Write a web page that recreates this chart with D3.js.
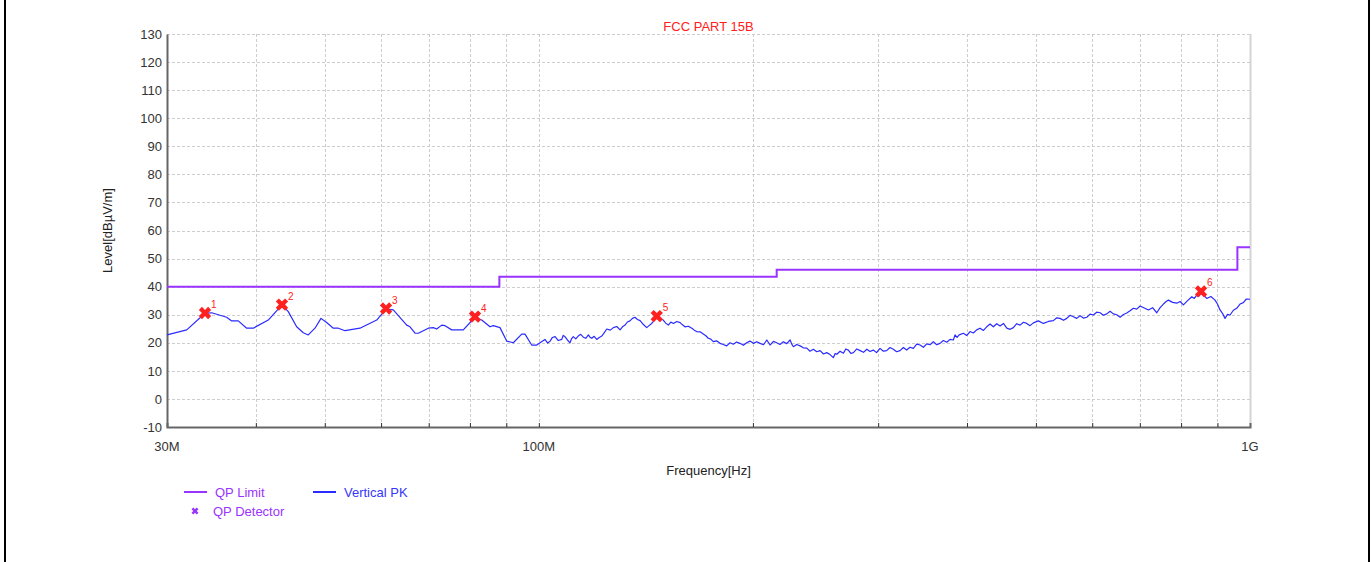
<!DOCTYPE html>
<html>
<head>
<meta charset="utf-8">
<script src="https://cdn.jsdelivr.net/npm/d3@7"></script>
<style>
  html, body { margin: 0; padding: 0; background: #fff; }
  svg text { font-family: "Liberation Sans", Arial, sans-serif; }
</style>
</head>
<body>
<div id="chart"></div>
<script>
// ---- data (MHz / dBµV/m) ----
const limitEdges = [30, 88, 216, 960, 1000];
const limitLevels = [40, 43.5, 46, 54];

const qpMarkers = [
  [33.93, 30.6], [43.53, 33.6], [60.97, 32.2], [81.32, 29.3], [146.5, 29.5], [853.4, 38.3]
];

const yTicks = d3.range(-10, 131, 10);
const xGrid = [40, 50, 60, 70, 80, 90, 100, 200, 300, 400, 500, 600, 700, 800, 900];
const xLabels = [[30, '30M'], [100, '100M'], [1000, '1G']];

// Vertical PK trace
const verticalPK = [
  [30.0, 22.8], [31.98, 24.6], [33.93, 30.5], [34.67, 30.7], [36.39, 29.1], [36.99, 27.8],
  [37.79, 27.8], [38.83, 25.2], [39.67, 25.2], [41.64, 28.1], [43.53, 33.5], [44.43, 31.1],
  [45.65, 25.7], [46.64, 23.6], [47.40, 22.8], [48.44, 25.2], [49.39, 28.7], [50.31, 27.2],
  [51.40, 25.2], [52.24, 25.2], [53.38, 24.3], [56.03, 25.2], [59.16, 28.1], [60.97, 32.0],
  [62.42, 31.7], [65.19, 26.3], [65.89, 25.7], [66.97, 23.4], [67.69, 23.4], [69.92, 25.2],
  [71.06, 25.4], [71.84, 24.9], [73.02, 26.3], [73.80, 26.1], [75.42, 24.6], [78.30, 24.6],
  [81.32, 29.1], [83.11, 28.1], [85.37, 25.7], [86.29, 26.1], [88.18, 25.4], [90.11, 20.6],
  [92.06, 20.0], [94.60, 23.1], [95.61, 23.1], [97.71, 19.2], [99.31, 19.2],
  [102.0, 21.2], [102.9, 19.9], [103.7, 20.6], [104.5, 21.9], [105.4, 22.2], [106.5, 20.8],
  [107.7, 21.2], [108.2, 22.6], [108.8, 22.2], [109.7, 21.0], [110.6, 20.0], [111.2, 21.5],
  [111.8, 22.2], [112.7, 21.4], [113.6, 22.4], [114.5, 23.0], [115.5, 22.0], [116.4, 21.6],
  [117.4, 22.8], [118.0, 22.0], [118.7, 21.6], [119.6, 22.3], [120.6, 21.2], [121.6, 21.9],
  [122.6, 22.4], [123.6, 23.6], [124.6, 24.9], [126.0, 24.5], [127.3, 25.4], [128.7, 25.8],
  [130.1, 24.6], [131.1, 25.7], [132.2, 26.3], [133.2, 27.4], [134.3, 27.8], [135.4, 28.7],
  [136.5, 29.1], [137.6, 28.3], [138.8, 27.9], [140.3, 26.5], [141.8, 25.4], [143.0, 26.2],
  [144.1, 26.9], [145.3, 28.0], [146.5, 29.3], [148.0, 28.6], [149.6, 28.1], [150.8, 27.0],
  [152.1, 26.3], [153.3, 27.4], [154.6, 26.9], [156.3, 27.6], [158.0, 27.2], [159.2, 26.4],
  [160.5, 25.7], [162.3, 25.9], [164.1, 25.2], [165.4, 24.5], [166.7, 24.0], [168.5, 23.9],
  [170.3, 23.1], [171.7, 22.5], [173.1, 21.6], [174.5, 21.3], [175.9, 20.4], [177.8, 20.7],
  [179.8, 19.8], [181.7, 19.4], [183.7, 18.9], [185.7, 20.0], [187.7, 19.5], [189.7, 20.3],
  [191.8, 19.8], [193.9, 19.1], [196.0, 20.0], [198.1, 20.6], [200.3, 19.8], [202.5, 20.4],
  [204.7, 19.8], [207.0, 19.3], [209.2, 21.0], [210.3, 20.1], [211.4, 19.2], [213.7, 20.5],
  [216.0, 20.0], [218.3, 19.4], [220.7, 20.4], [223.1, 19.7], [225.6, 21.0], [226.8, 19.5],
  [228.0, 18.6], [230.5, 19.4], [233.0, 18.9], [235.5, 18.2], [238.1, 18.1], [240.6, 17.0],
  [243.2, 17.7], [245.9, 16.8], [248.6, 17.2], [251.3, 16.0], [254.0, 16.5], [256.7, 15.8],
  [259.5, 14.7], [261.0, 16.2], [262.4, 15.9], [265.2, 17.0], [268.1, 16.3], [270.2, 17.8],
  [272.4, 17.4], [274.6, 16.2], [276.9, 16.5], [280.0, 17.8], [283.0, 17.2], [286.1, 16.6],
  [289.2, 17.7], [292.2, 16.9], [295.3, 17.4], [298.5, 16.5], [301.8, 18.0], [305.1, 17.0],
  [308.4, 17.2], [311.7, 18.3], [315.1, 17.7], [318.5, 16.8], [322.0, 17.2], [325.5, 18.3],
  [329.0, 17.4], [332.6, 18.4], [336.2, 18.0], [339.9, 19.5], [343.6, 19.2], [347.3, 18.4],
  [351.1, 19.6], [354.9, 19.3], [358.7, 20.4], [362.6, 19.3], [366.5, 19.8], [370.5, 20.8],
  [374.6, 20.2], [378.6, 21.2], [382.7, 21.0], [384.8, 22.8], [387.3, 21.9], [390.0, 22.8],
  [395.3, 23.4], [399.6, 22.6], [404.0, 24.0], [408.3, 23.5], [412.7, 24.6], [417.3, 25.2],
  [421.8, 24.4], [426.4, 25.7], [431.0, 26.7], [435.6, 25.7], [440.4, 26.8], [445.2, 26.0],
  [450.1, 26.9], [455.0, 25.2], [459.9, 24.8], [464.8, 25.4], [469.9, 26.8], [475.0, 26.3],
  [480.2, 27.3], [485.4, 26.9], [490.6, 26.1], [495.9, 27.1], [504.0, 27.8], [512.2, 26.9],
  [520.6, 27.6], [529.1, 27.9], [534.9, 28.9], [540.7, 28.7], [546.6, 28.0], [552.5, 28.7],
  [558.5, 29.8], [564.5, 29.3], [570.6, 28.7], [576.8, 29.6], [583.1, 28.8], [589.5, 29.1],
  [595.8, 30.2], [602.2, 29.9], [608.8, 30.9], [615.4, 30.7], [622.1, 29.8], [628.9, 30.3],
  [635.7, 31.2], [642.5, 30.3], [649.5, 30.0], [656.6, 29.1], [663.8, 30.1], [671.0, 30.6],
  [678.2, 31.4], [685.5, 32.3], [693.0, 32.0], [700.6, 33.1], [710.1, 32.4], [719.7, 31.7],
  [729.5, 32.5], [739.5, 30.7], [747.5, 32.5], [755.5, 33.8], [761.6, 34.6], [767.8, 35.2],
  [778.3, 34.4], [789.0, 34.1], [797.4, 34.7], [806.0, 33.5], [817.0, 35.0], [828.2, 36.4],
  [834.9, 35.8], [841.8, 37.0], [847.5, 36.6], [853.4, 37.6], [861.3, 36.9], [869.3, 35.8],
  [881.0, 36.5], [892.9, 35.2], [900.0, 33.8], [907.5, 31.7], [914.8, 30.5], [922.3, 28.7],
  [929.8, 30.1], [937.4, 29.9], [947.6, 31.6], [957.9, 32.3], [968.2, 33.8], [978.6, 34.3],
  [988.2, 35.6], [1000, 35.5]
];

// ---- drawing ----
const width = 1372, height = 562;
const margin = {top: 34, right: 122, bottom: 135, left: 167};
const cw = width - margin.left - margin.right,
      ch = height - margin.top - margin.bottom;

const x = d3.scaleLog().domain([30, 1000]).range([0, cw]);
const y = d3.scaleLinear().domain([-10, 130]).range([ch, 0]);

const limitColor = '#9933ff', traceColor = '#2b2bff', markColor = '#ff2020';
const fs = 13;

const svg = d3.select('#chart').append('svg')
  .attr('width', width).attr('height', height);

// page frame
svg.selectAll('line.frame').data([5, 1369])
  .join('line').attr('class', 'frame')
  .attr('x1', d => d).attr('x2', d => d)
  .attr('y1', 0).attr('y2', height)
  .attr('stroke', '#000').attr('stroke-width', 2);

svg.append('text')
  .attr('x', margin.left + cw / 2).attr('y', 31)
  .attr('text-anchor', 'middle').attr('font-size', fs)
  .attr('fill', markColor).text('FCC PART 15B');

const g = svg.append('g').attr('transform', `translate(${margin.left},${margin.top})`);

// grid
g.selectAll('line.hgrid').data(yTicks)
  .join('line').attr('class', 'hgrid')
  .attr('x1', 0).attr('x2', cw)
  .attr('y1', d => Math.round(y(d)) + 0.5).attr('y2', d => Math.round(y(d)) + 0.5)
  .attr('stroke', '#cdcdcd').attr('stroke-dasharray', '3,2');

g.selectAll('line.vgrid').data(xGrid)
  .join('line').attr('class', 'vgrid')
  .attr('x1', d => Math.round(x(d)) + 0.5).attr('x2', d => Math.round(x(d)) + 0.5)
  .attr('y1', 0).attr('y2', ch)
  .attr('stroke', '#cdcdcd').attr('stroke-dasharray', '3,2');

g.append('line')
  .attr('x1', cw + 0.5).attr('x2', cw + 0.5).attr('y1', 0).attr('y2', ch)
  .attr('stroke', '#d4d4d4').attr('stroke-width', 2);

// axes
const yAxis = g.append('g')
  .call(d3.axisLeft(y).tickValues(yTicks).tickSize(0).tickPadding(5).tickFormat(d => String(d)));
yAxis.select('.domain').attr('stroke', '#666').attr('stroke-width', 2);
yAxis.selectAll('text').attr('font-size', fs).attr('fill', '#333')
  .attr('font-family', '"Liberation Sans", Arial, sans-serif');

const xAxis = g.append('g').attr('transform', `translate(0,${ch})`)
  .call(d3.axisTop(x).tickValues(xGrid).tickSize(4).tickFormat(''));
xAxis.select('.domain').attr('stroke', '#666').attr('stroke-width', 2);
xAxis.selectAll('.tick line').attr('stroke', '#333');

g.selectAll('text.xlab').data(xLabels)
  .join('text').attr('class', 'xlab')
  .attr('x', d => x(d[0])).attr('y', ch + 24)
  .attr('text-anchor', 'middle').attr('font-size', fs).attr('fill', '#333')
  .text(d => d[1]);

g.append('text')
  .attr('x', cw / 2).attr('y', ch + 48)
  .attr('text-anchor', 'middle').attr('font-size', fs).attr('fill', '#222')
  .text('Frequency[Hz]');

g.append('text')
  .attr('transform', `translate(-55,${y(60)}) rotate(-90)`)
  .attr('text-anchor', 'middle').attr('font-size', fs).attr('fill', '#222')
  .text('Level[dBµV/m]');

// limit step line
const limitPts = [];
limitLevels.forEach((v, i) => {
  limitPts.push([limitEdges[i], v], [limitEdges[i + 1], v]);
});
g.append('path').datum(limitPts)
  .attr('fill', 'none').attr('stroke', limitColor).attr('stroke-width', 2)
  .attr('d', d3.line().x(d => x(d[0])).y(d => y(d[1])));

// trace
g.append('path').datum(verticalPK)
  .attr('fill', 'none').attr('stroke', traceColor).attr('stroke-width', 1.2)
  .attr('stroke-linejoin', 'round')
  .attr('d', d3.line().x(d => x(d[0])).y(d => y(d[1])));

// QP markers
const mark = d3.symbol().type(d3.symbolCross).size(95);
const mk = g.selectAll('g.qp').data(qpMarkers)
  .join('g').attr('class', 'qp')
  .attr('transform', d => `translate(${x(d[0])},${y(d[1])})`);
mk.append('path').attr('d', mark).attr('transform', 'rotate(45)').attr('fill', markColor);
mk.append('text').attr('x', 6).attr('y', -5)
  .attr('font-size', 10).attr('fill', markColor)
  .text((d, i) => i + 1);

// legend
const leg = svg.append('g').attr('transform', 'translate(184,492)');
const legItems = [
  {label: 'QP Limit', color: limitColor, tx: 31, x: 0, y: 0, kind: 'line'},
  {label: 'Vertical PK', color: traceColor, tx: 31, x: 129, y: 0, kind: 'line'},
  {label: 'QP Detector', color: limitColor, tx: 29, x: 0, y: 19, kind: 'mark'}
];
leg.selectAll('g.item').data(legItems)
  .join('g').attr('class', 'item')
  .attr('transform', d => `translate(${d.x},${d.y})`)
  .each(function(d) {
    const it = d3.select(this);
    if (d.kind === 'line') {
      it.append('line').attr('x1', 0).attr('x2', 23).attr('y1', 0).attr('y2', 0)
        .attr('stroke', d.color).attr('stroke-width', 2);
    } else {
      it.append('path').attr('transform', 'translate(11,0) rotate(45)')
        .attr('d', d3.symbol().type(d3.symbolCross).size(30)).attr('fill', d.color);
    }
    it.append('text').attr('x', d.tx).attr('y', 5)
      .attr('font-size', fs).attr('fill', d.color === traceColor ? '#3535ff' : '#9933ff')
      .text(d.label);
  });
</script>
</body>
</html>
